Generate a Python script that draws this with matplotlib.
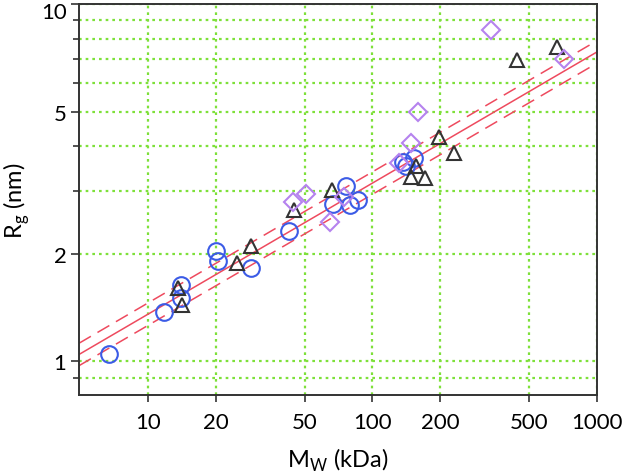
import numpy as np
import matplotlib
matplotlib.use('Agg')
import matplotlib.pyplot as plt
from matplotlib.ticker import NullFormatter, NullLocator
from matplotlib.transforms import ScaledTranslation

# circles (blue)
circ_mw = [6.7, 11.8, 14.1, 14.1, 20.0, 20.5, 28.9, 42.5, 66.7, 76.4, 79.1, 86.3, 137, 141, 153.8]
circ_rg = [1.05, 1.37, 1.64, 1.50, 2.04, 1.91, 1.82, 2.31, 2.76, 3.10, 2.74, 2.83, 3.62, 3.51, 3.70]

# triangles (dark)
tri_mw = [13.6, 14.2, 24.8, 28.9, 44.7, 65.9, 148.6, 157, 172, 197, 230, 438, 662]
tri_rg = [1.60, 1.44, 1.88, 2.10, 2.66, 3.01, 3.28, 3.52, 3.26, 4.24, 3.84, 6.99, 7.58]

# diamonds (violet)
dia_mw = [44.3, 50.4, 64.9, 74.3, 131.9, 148.6, 160, 337, 713]
dia_rg = [2.80, 2.94, 2.46, 2.89, 3.59, 4.08, 4.99, 8.44, 7.03]

# power law fit Rg = a * Mw^b, band +/- 7.5 %
fit_a = 0.582
fit_b = 0.367
band = 1.075

xticks = [10, 20, 50, 100, 200, 500, 1000]
yticks = [1, 2, 5, 10]
yminor = [0.9, 3, 4, 6, 7, 8, 9]

plt.rcParams['font.family'] = ['Lato', 'DejaVu Sans']

fig = plt.figure(figsize=(6.23, 4.77), dpi=100)
ax = fig.add_axes([0.1268, 0.1698, 0.8315, 0.8197])
ax.set_xscale('log')
ax.set_yscale('log')
ax.set_xlim(4.93, 1000)
ax.set_ylim(0.805, 10)

red = '#ee4a5e'
mw = np.logspace(np.log10(4.93), 3, 50)
rg = fit_a * mw ** fit_b
ax.plot(mw, rg, color=red, lw=1.1, zorder=2)
ax.plot(mw, rg * band, color=red, lw=1.1, dashes=(9, 5), zorder=2)
ax.plot(mw, rg / band, color=red, lw=1.1, dashes=(9, 5), zorder=2)

ax.plot(circ_mw, circ_rg, 'o', ms=12, mfc='none', mec='#3b5be6', mew=1.5, zorder=3)
ax.plot(tri_mw, tri_rg, '^', ms=10, mfc='none', mec='#333333', mew=1.5, zorder=3)
ax.plot(dia_mw, dia_rg, 'D', ms=9, mfc='none', mec='#b582ee', mew=1.5, zorder=3)

ax.set_xticks(xticks)
ax.set_xticklabels([str(t) for t in xticks])
ax.xaxis.set_minor_locator(NullLocator())
ax.set_yticks(yticks)
ax.set_yticklabels([str(t) for t in yticks])
ax.set_yticks(yminor, minor=True)
ax.yaxis.set_minor_formatter(NullFormatter())

ax.grid(True, which='both', color='#7ee03a', ls=(0, (1.2, 1.8)), lw=1.6, zorder=1)
ax.tick_params(axis='both', which='both', direction='out', colors='#333333',
               labelcolor='black', labelsize=16)
ax.tick_params(axis='x', length=5, width=1.2, pad=7)
ax.tick_params(axis='y', which='major', length=6, width=1.2, pad=3)
ax.tick_params(axis='y', which='minor', length=4, width=1.2)
for s in ax.spines.values():
    s.set_color('#333333')
    s.set_linewidth(1.4)

# top "10" label sits a bit lower so it is not cut
top_lab = ax.get_yticklabels()[-1]
top_lab.set_transform(top_lab.get_transform() + ScaledTranslation(0, -4 / 72, fig.dpi_scale_trans))

ax.set_xlabel('M$_\\mathregular{W}$ (kDa)', fontsize=17, labelpad=10)
ax.set_ylabel('R$_\\mathregular{g}$ (nm)', fontsize=17, labelpad=6)

fig.savefig('out.png', dpi=100)
